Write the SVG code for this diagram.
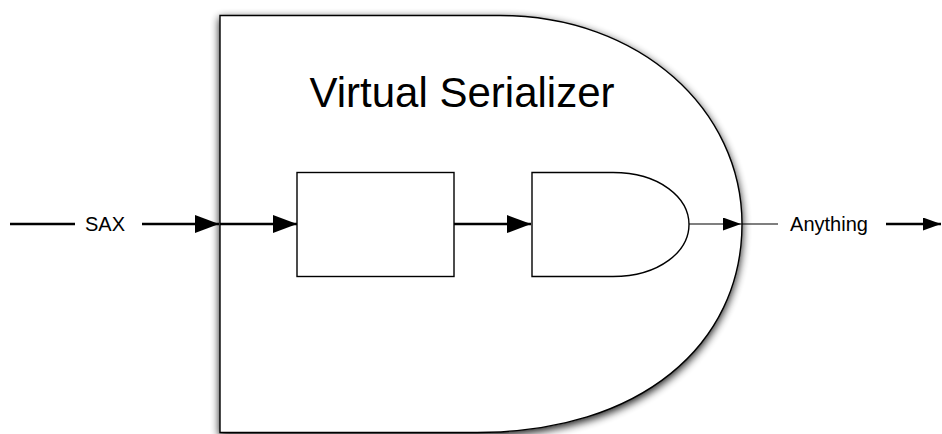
<svg xmlns="http://www.w3.org/2000/svg" width="942" height="434" viewBox="0 0 942 434">
  <defs>
    <filter id="shadow" x="-10%" y="-10%" width="120%" height="120%" color-interpolation-filters="sRGB">
      <feGaussianBlur in="SourceAlpha" stdDeviation="4.5" result="blur"/>
      <feOffset in="blur" dx="0" dy="3" result="off"/>
      <feComponentTransfer in="off" result="shade">
        <feFuncA type="linear" slope="0.9"/>
      </feComponentTransfer>
      <feMerge>
        <feMergeNode in="shade"/>
        <feMergeNode in="SourceGraphic"/>
      </feMerge>
    </filter>
    <marker id="headBig" viewBox="0 0 24 18" refX="24" refY="9" markerWidth="24" markerHeight="18" markerUnits="userSpaceOnUse" orient="auto">
      <path d="M0,0 L24,9 L0,18 Z" fill="#000"/>
    </marker>
    <marker id="headSmall" viewBox="0 0 18 13" refX="18" refY="6.5" markerWidth="18" markerHeight="13" markerUnits="userSpaceOnUse" orient="auto">
      <path d="M0,0 L18,6.5 L0,13 Z" fill="#000"/>
    </marker>
    <style>
      .shape { fill: #fff; stroke: #000; stroke-width: 1.4; }
      .label { font-family: "Liberation Sans", Arial, Helvetica, sans-serif; fill: #000; }
      .thick { stroke: #000; stroke-width: 2.6; fill: none; }
      .thin { stroke: #000; stroke-width: 1.2; fill: none; }
    </style>
  </defs>

  <!-- outer serializer container -->
  <g id="virtual-serializer">
    <path class="shape" filter="url(#shadow)" d="M220,15.5 H500 C640,15.5 742,110 742,224 C742,345 640,432.5 477,432.5 H220 Z"/>
    <text class="label" x="462" y="107" font-size="42" text-anchor="middle">Virtual Serializer</text>
  </g>

  <!-- inner transform step -->
  <g id="transformer">
    <rect class="shape" x="297" y="172.5" width="157" height="104"/>
  </g>

  <!-- inner serializer step -->
  <g id="serializer">
    <path class="shape" d="M532,172.5 H613 C660,172.5 689,198 689,224.5 C689,251 660,276.5 613,276.5 H532 Z"/>
  </g>

  <!-- connectors -->
  <g id="connectors">
    <line class="thick" x1="10" y1="224" x2="75" y2="224"/>
    <text class="label" x="105" y="231" font-size="20" text-anchor="middle">SAX</text>
    <line class="thick" x1="142" y1="224" x2="219" y2="224" marker-end="url(#headBig)"/>
    <line class="thick" x1="220" y1="224" x2="297" y2="224" marker-end="url(#headBig)"/>
    <line class="thick" x1="454" y1="224" x2="531" y2="224" marker-end="url(#headBig)"/>
    <line class="thin" x1="689" y1="224" x2="741" y2="224" marker-end="url(#headSmall)"/>
    <line class="thin" x1="741" y1="224" x2="778" y2="224"/>
    <text class="label" x="829" y="231" font-size="20" text-anchor="middle">Anything</text>
    <line class="thick" x1="886" y1="224" x2="941" y2="224" stroke-width="2" marker-end="url(#headSmall)"/>
  </g>
</svg>
